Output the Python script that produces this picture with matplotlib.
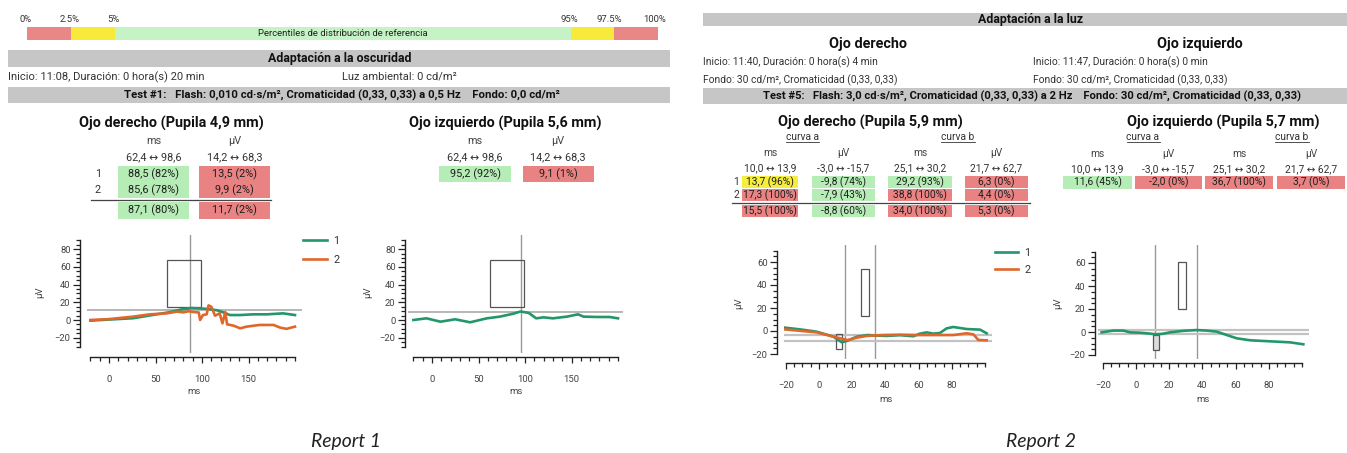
import matplotlib
matplotlib.use("Agg")
import matplotlib.pyplot as plt
from matplotlib.patches import Rectangle
from matplotlib.lines import Line2D
from matplotlib.ticker import FixedLocator

# ---------------------------------------------------------------- data
pct_labels = ["0%", "2.5%", "5%", "95%", "97.5%", "100%"]

# Report 1 - dark adaptation, test #1
r1_norm_ms = (62.4, 98.6)
r1_norm_uv = (14.2, 68.3)
r1_od_rows = ["1", "2"]
r1_od_ms = [88.5, 85.6]
r1_od_ms_pct = [82, 78]
r1_od_uv = [13.5, 9.9]
r1_od_uv_pct = [2, 2]
r1_od_mean_ms = (87.1, 80)
r1_od_mean_uv = (11.7, 2)
r1_oi_ms = (95.2, 92)
r1_oi_uv = (9.1, 1)

r1_od_t1_ms = [-20, 0, 26, 51, 64, 78, 88.5, 95, 105, 116, 123, 130, 141, 155, 170, 187, 200]
r1_od_t1_uv = [-0.7, 0.5, 2.0, 6.4, 8.6, 12.0, 13.5, 13.2, 12.6, 11.0, 8.6, 5.6, 5.6, 6.4, 6.4, 7.5, 5.6]
r1_od_t2_ms = [-20, 0, 26, 44, 62, 73, 80, 85.6, 91, 96.5, 98, 101, 105, 107, 110, 114, 119,
               122, 125, 127, 134, 141, 148, 162, 177, 184, 191, 200]
r1_od_t2_uv = [0.0, 1.0, 3.8, 6.4, 7.5, 9.5, 8.6, 9.9, 9.0, 8.5, 0.0, 5.6, 6.4, 16.5, 15.0, 4.9, 7.5,
               -3.8, 9.0, -4.9, -6.4, -9.4, -7.5, -5.6, -5.6, -8.6, -10.0, -7.5]
r1_oi_t1_ms = [-20, -6, 9, 25, 41, 59, 73, 87, 95.2, 104, 112, 120, 130, 145, 157, 163, 177, 191, 200]
r1_oi_t1_uv = [0.0, 1.9, -1.9, 0.8, -2.6, 1.9, 3.8, 7.0, 9.6, 8.0, 1.9, 3.0, 1.9, 3.8, 6.4, 3.8, 3.4, 3.4, 1.9]

# Report 2 - light adaptation, test #5
r2_norm_a_ms = (10.0, 13.9)
r2_norm_a_uv = (-3.0, -15.7)
r2_norm_b_ms = (25.1, 30.2)
r2_norm_b_uv = (21.7, 62.7)
r2_od_rows = ["1", "2", ""]
r2_od_vals = [[13.7, -9.8, 29.2, 6.3],
              [17.3, -7.9, 38.8, 4.4],
              [15.5, -8.8, 34.0, 5.3]]
r2_od_pcts = [[96, 74, 93, 0],
              [100, 43, 100, 0],
              [100, 60, 100, 0]]
r2_oi_vals = [11.6, -2.0, 36.7, 3.7]
r2_oi_pcts = [45, 0, 100, 0]

r2_od_t1_ms = [-20.5, -11.4, -1.4, 8.6, 13.7, 16.7, 22.7, 29.2, 34.7, 40.8, 48.8, 56.8, 60.8,
               64.9, 68.9, 72.9, 76.9, 80.9, 89, 97, 101]
r2_od_t1_uv = [2.9, 1.4, -0.6, -4.9, -9.8, -8.7, -5.0, -3.5, -4.0, -4.3, -3.6, -4.6, -2.3,
               -1.2, -2.3, -1.7, 2.3, 3.5, 1.7, 1.2, -2.0]
r2_od_t2_ms = [-20.5, -1.4, 8.6, 17.3, 22.7, 28.7, 34.7, 38.8, 48.8, 58, 68.9, 80.9, 89, 93, 96, 101]
r2_od_t2_uv = [1.4, -1.2, -4.9, -7.9, -5.8, -4.3, -3.8, -3.5, -3.2, -3.5, -3.5, -3.5, -2.0, -2.9, -7.8, -8.1]
r2_oi_t1_ms = [-20.7, -13.7, -7.6, -3.6, 2.4, 8.4, 11.6, 16, 20.5, 28.5, 36.7, 42.6, 48.6, 54.6,
               60.7, 68.7, 76.7, 84.7, 92.8, 100.8]
r2_oi_t1_uv = [-0.3, 1.2, 1.2, -0.3, -0.6, -1.4, -2.0, -1.6, -0.3, 1.0, 1.7, 1.2, 0.3, -2.6,
               -5.5, -7.2, -7.8, -8.4, -9.0, -10.7]

# ---------------------------------------------------------------- style
W, H = 1347, 453
plt.rcParams["font.family"] = ["Roboto", "DejaVu Sans"]

GREEN_TR = "#23976a"
ORANGE_TR = "#e0672c"
BAND = "#c6c6c6"
C_RED, C_YEL, C_GRN = "#e98282", "#f6ee3e", "#b6ecb6"
BAR_RED, BAR_YEL, BAR_GRN = "#e98686", "#f7ea3a", "#c6f3c6"
TXT = "#1e1e1e"

fig = plt.figure(figsize=(W / 100, H / 100), dpi=100)
fig.patch.set_facecolor("white")
renderer = fig.canvas.get_renderer()


def fx(x):
    return x / W


def fy(y):
    return 1 - y / H


def box(x0, x1, y0, y1, color, z=0.5):
    fig.add_artist(Rectangle((fx(x0), fy(y1)), (x1 - x0) / W, (y1 - y0) / H,
                             transform=fig.transFigure, facecolor=color,
                             edgecolor="none", zorder=z))


def hrule(x0, x1, y, color="#444", lw=0.9):
    fig.add_artist(Line2D([fx(x0), fx(x1)], [fy(y), fy(y)], transform=fig.transFigure,
                          color=color, lw=lw))


def txt(x, y, s, size, ha="center", va="center", weight="normal", color=TXT, style="normal",
        family=None):
    kw = {"family": family} if family else {}
    return fig.text(fx(x), fy(y), s, fontsize=size, ha=ha, va=va, weight=weight,
                    color=color, style=style, zorder=3, **kw)


def fit_size(sample, width, weight="normal", style="normal", family=None):
    kw = {"family": family} if family else {}
    t = fig.text(0, 0, sample, fontsize=10, weight=weight, style=style, **kw)
    w = t.get_window_extent(renderer).width
    t.remove()
    return 10 * width / w


def num(v):
    return f"{v:.1f}".replace(".", ",")


def cell_text(v, p):
    return f"{num(v)} ({p:.0f}%)"


def pct_color(p):
    if p < 2.5 or p > 97.5:
        return C_RED
    if p < 5 or p > 95:
        return C_YEL
    return C_GRN


def rng(a, b):
    return f"{num(a)} \u2194 {num(b)}"


test1 = "Test #1:   Flash: 0,010 cd\u00b7s/m\u00b2, Cromaticidad (0,33, 0,33) a 0,5 Hz    Fondo: 0,0 cd/m\u00b2"
test5 = ("Test #5:   Flash: 3,0 cd\u00b7s/m\u00b2, Cromaticidad (0,33, 0,33) a 2 Hz    "
         "Fondo: 30 cd/m\u00b2, Cromaticidad (0,33, 0,33)")

CAP_FAMILY = ["Lato", "DejaVu Sans"]
S_HEAD = fit_size("Adaptación a la oscuridad", 145, "bold")
S_INFO = fit_size("Inicio: 11:08, Duración: 0 hora(s) 20 min", 195)
S_INFO2 = fit_size("Inicio: 11:40, Duración: 0 hora(s) 4 min", 176)
S_TEST1 = fit_size(test1, 433, "bold")
S_TEST2 = fit_size(test5, 541, "bold")
S_EYE = fit_size("Ojo derecho (Pupila 4,9 mm)", 185, "bold")
S_TAB1 = fit_size("88,5 (82%)", 51)
S_TAB2 = fit_size("13,7 (96%)", 48)
S_PCT = fit_size("Percentiles de distribución de referencia", 169)
S_CAP = fit_size("Report 1", 70, style="italic", family=CAP_FAMILY)
S_TICK = 6.8

# ---------------------------------------------------------------- report 1 header
bar_x = [27, 71, 115, 571, 614, 658]
bar_c = [BAR_RED, BAR_YEL, BAR_GRN, BAR_YEL, BAR_RED]
for i, c in enumerate(bar_c):
    box(bar_x[i], bar_x[i + 1], 27, 40, c)
for lab, x in zip(pct_labels, [26, 70, 113, 569, 609, 655]):
    txt(x, 20, lab, S_PCT, color="#333")
txt(343, 34, "Percentiles de distribución de referencia", S_PCT, color="#222")

box(8, 670, 50, 67, BAND)
txt(340, 58.5, "Adaptación a la oscuridad", S_HEAD, weight="bold", color="#111")
txt(8, 77, "Inicio: 11:08, Duración: 0 hora(s) 20 min", S_INFO, ha="left", color="#333")
txt(342, 77, "Luz ambiental: 0 cd/m\u00b2", S_INFO, ha="left", color="#333")
box(8, 670, 87, 103, BAND)
txt(342, 95, test1, S_TEST1, weight="bold", color="#111")

# report 1 tables
txt(171, 123, "Ojo derecho (Pupila 4,9 mm)", S_EYE, weight="bold", color="#111")
od_cols = [153.5, 234.5]
cw1 = 71
txt(od_cols[0], 141, "ms", S_TAB1, color="#444")
txt(od_cols[1], 141, "\u00b5V", S_TAB1, color="#444")
txt(od_cols[0], 157, rng(*r1_norm_ms), S_TAB1, color="#333")
txt(od_cols[1], 157, rng(*r1_norm_uv), S_TAB1, color="#333")
row_y = [174, 190]
for lab, yc, vm, pm, va, pa in zip(r1_od_rows, row_y, r1_od_ms, r1_od_ms_pct, r1_od_uv, r1_od_uv_pct):
    txt(101, yc, lab, S_TAB1, ha="right", color="#333")
    for xc, v, p in ((od_cols[0], vm, pm), (od_cols[1], va, pa)):
        box(xc - cw1 / 2, xc + cw1 / 2, yc - 8, yc + 8, pct_color(p))
        txt(xc, yc, cell_text(v, p), S_TAB1)
hrule(91, 271, 200)
for xc, (v, p) in ((od_cols[0], r1_od_mean_ms), (od_cols[1], r1_od_mean_uv)):
    box(xc - cw1 / 2, xc + cw1 / 2, 202, 219, pct_color(p))
    txt(xc, 210.5, cell_text(v, p), S_TAB1)

txt(505, 123, "Ojo izquierdo (Pupila 5,6 mm)", S_EYE, weight="bold", color="#111")
oi_cols = [475, 558]
txt(oi_cols[0], 141, "ms", S_TAB1, color="#444")
txt(oi_cols[1], 141, "\u00b5V", S_TAB1, color="#444")
txt(oi_cols[0], 157, rng(*r1_norm_ms), S_TAB1, color="#333")
txt(oi_cols[1], 157, rng(*r1_norm_uv), S_TAB1, color="#333")
for xc, (v, p) in ((oi_cols[0], r1_oi_ms), (oi_cols[1], r1_oi_uv)):
    box(xc - cw1 / 2, xc + cw1 / 2, 166, 182, pct_color(p))
    txt(xc, 174, cell_text(v, p), S_TAB1)

# ---------------------------------------------------------------- report 2 header
box(703, 1347, 13, 26, BAND)
txt(1030, 19.5, "Adaptación a la luz", S_HEAD, weight="bold", color="#111")
txt(868, 44, "Ojo derecho", S_EYE, weight="bold", color="#111")
txt(1200, 44, "Ojo izquierdo", S_EYE, weight="bold", color="#111")
txt(703, 62, "Inicio: 11:40, Duración: 0 hora(s) 4 min", S_INFO2, ha="left", color="#333")
txt(703, 80, "Fondo: 30 cd/m\u00b2, Cromaticidad (0,33, 0,33)", S_INFO2, ha="left", color="#333")
txt(1033, 62, "Inicio: 11:47, Duración: 0 hora(s) 0 min", S_INFO2, ha="left", color="#333")
txt(1033, 80, "Fondo: 30 cd/m\u00b2, Cromaticidad (0,33, 0,33)", S_INFO2, ha="left", color="#333")
box(703, 1347, 88, 104, BAND)
txt(1032, 96.5, test5, S_TEST2, weight="bold", color="#111")


def underlined(x, y, s, size):
    t = txt(x, y, s, size, color="#333")
    bb = t.get_window_extent(renderer)
    yl = bb.y0 + 0.5
    fig.add_artist(Line2D([bb.x0 / W, bb.x1 / W], [yl / H, yl / H], transform=fig.transFigure,
                          color="#333", lw=0.6))


norm_ranges = [r2_norm_a_ms, r2_norm_a_uv, r2_norm_b_ms, r2_norm_b_uv]
units = ["ms", "\u00b5V", "ms", "\u00b5V"]

# right eye (report 2)
txt(870, 122, "Ojo derecho (Pupila 5,9 mm)", S_EYE, weight="bold", color="#111")
underlined(802, 137, "curva a", S_TAB2)
underlined(958, 137, "curva b", S_TAB2)
c2 = [770, 843.5, 920, 996.5]
cw2 = [56, 63, 64, 63]
for xc, u, r in zip(c2, units, norm_ranges):
    txt(xc, 153, u, S_TAB2, color="#444")
    txt(xc, 168, rng(*r), S_TAB2, color="#333")
r2_row_y = [182, 195, 211]
for lab, yc, vrow, prow in zip(r2_od_rows, r2_row_y, r2_od_vals, r2_od_pcts):
    if lab:
        txt(739, yc, lab, S_TAB2, ha="right", color="#333")
    for xc, w, v, p in zip(c2, cw2, vrow, prow):
        box(xc - w / 2, xc + w / 2, yc - 6.3, yc + 6.3, pct_color(p))
        txt(xc, yc, cell_text(v, p), S_TAB2)
hrule(732, 1030, 203)

# left eye (report 2)
txt(1223, 122, "Ojo izquierdo (Pupila 5,7 mm)", S_EYE, weight="bold", color="#111")
underlined(1143, 137, "curva a", S_TAB2)
underlined(1292, 137, "curva b", S_TAB2)
c3 = [1097.5, 1168.5, 1239, 1311]
cw3 = [69, 67, 68, 68]
for xc, u, r in zip(c3, units, norm_ranges):
    txt(xc, 154, u, S_TAB2, color="#444")
    txt(xc, 169, rng(*r), S_TAB2, color="#333")
for xc, w, v, p in zip(c3, cw3, r2_oi_vals, r2_oi_pcts):
    box(xc - w / 2, xc + w / 2, 176, 188.5, pct_color(p))
    txt(xc, 182, cell_text(v, p), S_TAB2)


# ---------------------------------------------------------------- waveform axes
def make_axes(xlim, ylim, x0px, xscale, y0px, yscale, yspine_px, xspine_px,
              xbounds, ybounds, xmajor, xminor, ymajor, yminor):
    left = x0px + xlim[0] * xscale
    right = x0px + xlim[1] * xscale
    top = y0px - ylim[1] * yscale
    bottom = y0px - ylim[0] * yscale
    ax = fig.add_axes([fx(left), fy(bottom), (right - left) / W, (bottom - top) / H])
    ax.set_xlim(*xlim)
    ax.set_ylim(*ylim)
    ax.patch.set_alpha(0)
    for s in ("top", "right"):
        ax.spines[s].set_visible(False)
    ax.spines["left"].set_position(("outward", (left - yspine_px) * 0.72))
    ax.spines["bottom"].set_position(("outward", (xspine_px - bottom) * 0.72))
    ax.spines["left"].set_bounds(*ybounds)
    ax.spines["bottom"].set_bounds(*xbounds)
    for s in ("left", "bottom"):
        ax.spines[s].set_linewidth(1.0)
        ax.spines[s].set_color("#222")
    ax.xaxis.set_major_locator(FixedLocator(xmajor))
    ax.xaxis.set_minor_locator(FixedLocator(xminor))
    ax.yaxis.set_major_locator(FixedLocator(ymajor))
    ax.yaxis.set_minor_locator(FixedLocator(yminor))
    ax.tick_params(axis="x", which="major", length=4.2, width=0.9, pad=9.0, color="#222",
                   labelsize=S_TICK, labelcolor="#444")
    ax.tick_params(axis="x", which="minor", length=2.8, width=0.9, color="#222")
    ax.tick_params(axis="y", which="major", length=5.0, width=0.9, pad=1.8, color="#222",
                   labelsize=S_TICK, labelcolor="#444")
    ax.tick_params(axis="y", which="minor", length=2.6, width=0.9, color="#222")
    return ax, (left, right, top, bottom)


def axis_labels(ax, ext, ylab_px, xlab_px):
    left, right, top, bottom = ext
    ax.set_ylabel("\u00b5V", fontsize=S_TICK, color="#444")
    ax.yaxis.set_label_coords((ylab_px[0] - left) / (right - left), (bottom - ylab_px[1]) / (bottom - top))
    ax.set_xlabel("ms", fontsize=S_TICK, color="#444")
    ax.xaxis.set_label_coords((xlab_px[0] - left) / (right - left), (bottom - xlab_px[1]) / (bottom - top))
    ax.xaxis.label.set_va("center")
    ax.yaxis.label.set_va("center")


def norm_box(ax, xr, yr, fill="none"):
    ax.add_patch(Rectangle((xr[0], min(yr)), xr[1] - xr[0], abs(yr[1] - yr[0]),
                           facecolor=fill, edgecolor="#555", lw=0.9, zorder=2))


r1_xmajor = [0, 50, 100, 150]
r1_xminor = list(range(-20, 201, 10))
r1_ymajor = [-20, 0, 20, 40, 60, 80]
r1_yminor = list(range(-30, 91, 5))
r2_xmajor = [-20, 0, 20, 40, 60, 80]
r2_xminor = list(range(-20, 101, 5))
r2_ymajor = [-20, 0, 20, 40, 60]
r2_yminor = list(range(-20, 71, 5))

# report 1, right eye
ax1, e1 = make_axes((-24, 208), (-37, 96), 109, 0.93, 320, 0.885, 80, 357,
                    (-20, 200), (-30, 90), r1_xmajor, r1_xminor, r1_ymajor, r1_yminor)
ax1.axvline(r1_od_mean_ms[0], color="#999", lw=1.0, zorder=1)
ax1.axhline(r1_od_mean_uv[0], color="#aaa", lw=1.2, zorder=1)
norm_box(ax1, r1_norm_ms, r1_norm_uv)
l1, = ax1.plot(r1_od_t1_ms, r1_od_t1_uv, color=GREEN_TR, lw=1.9, zorder=3)
l2, = ax1.plot(r1_od_t2_ms, r1_od_t2_uv, color=ORANGE_TR, lw=1.9, zorder=3)
axis_labels(ax1, e1, (40, 292), (193.5, 392))
lg = fig.legend([l1, l2], ["1", "2"], loc="upper left", bbox_to_anchor=(fx(303), fy(236)),
                frameon=False, fontsize=S_TAB1, handlelength=2.2, handletextpad=0.6,
                borderpad=0, borderaxespad=0, labelspacing=0.85)
for t in lg.get_texts():
    t.set_color("#333")

# report 1, left eye
ax2, e2 = make_axes((-26, 205), (-37, 96), 432, 0.93, 320, 0.885, 405, 357,
                    (-20, 200), (-30, 90), r1_xmajor, r1_xminor, r1_ymajor, r1_yminor)
ax2.axvline(r1_oi_ms[0], color="#999", lw=1.0, zorder=1)
ax2.axhline(r1_oi_uv[0], color="#aaa", lw=1.2, zorder=1)
norm_box(ax2, r1_norm_ms, r1_norm_uv)
ax2.plot(r1_oi_t1_ms, r1_oi_t1_uv, color=GREEN_TR, lw=1.9, zorder=3)
axis_labels(ax2, e2, (368, 292), (515.5, 392))

# "ms" captions of report 1 are cut by the page edge of the embedded image
box(160, 230, 393.5, 412, "white", z=5)
box(480, 550, 393.5, 412, "white", z=5)

# report 2, right eye
ax3, e3 = make_axes((-21, 104), (-24.5, 75), 819, 1.66, 331, 1.15, 777, 363,
                    (-20, 100), (-20, 70), r2_xmajor, r2_xminor, r2_ymajor, r2_yminor)
a_mean = r2_od_vals[2][1]
ax3.axvline(r2_od_vals[2][0], color="#999", lw=1.0, zorder=1)
ax3.axvline(r2_od_vals[2][2], color="#999", lw=1.0, zorder=1)
ax3.axhline(a_mean, color="#c2c2c2", lw=1.6, zorder=1)
ax3.axhline(a_mean + r2_od_vals[2][3], color="#c2c2c2", lw=1.6, zorder=1)
norm_box(ax3, r2_norm_a_ms, r2_norm_a_uv)
norm_box(ax3, r2_norm_b_ms, (a_mean + r2_norm_b_uv[0], a_mean + r2_norm_b_uv[1]))
m1, = ax3.plot(r2_od_t1_ms, r2_od_t1_uv, color=GREEN_TR, lw=1.9, zorder=3)
m2, = ax3.plot(r2_od_t2_ms, r2_od_t2_uv, color=ORANGE_TR, lw=1.9, zorder=3)
axis_labels(ax3, e3, (739, 303), (886, 400))
lg2 = fig.legend([m1, m2], ["1", "2"], loc="upper left", bbox_to_anchor=(fx(995), fy(248)),
                 frameon=False, fontsize=S_TAB1, handlelength=2.1, handletextpad=0.6,
                 borderpad=0, borderaxespad=0, labelspacing=0.62)
for t in lg2.get_texts():
    t.set_color("#333")

# report 2, left eye
ax4, e4 = make_axes((-23, 104.5), (-23.5, 75.5), 1136, 1.66, 332, 1.15, 1095, 363,
                    (-20, 100), (-20, 70), r2_xmajor, r2_xminor, r2_ymajor, r2_yminor)
a_oi = r2_oi_vals[1]
ax4.axvline(r2_oi_vals[0], color="#999", lw=1.0, zorder=1)
ax4.axvline(r2_oi_vals[2], color="#999", lw=1.0, zorder=1)
ax4.axhline(a_oi, color="#c2c2c2", lw=1.6, zorder=1)
ax4.axhline(a_oi + r2_oi_vals[3], color="#c2c2c2", lw=1.6, zorder=1)
norm_box(ax4, r2_norm_a_ms, r2_norm_a_uv, fill="#dcdcdc")
norm_box(ax4, r2_norm_b_ms, (a_oi + r2_norm_b_uv[0], a_oi + r2_norm_b_uv[1]))
ax4.plot(r2_oi_t1_ms, r2_oi_t1_uv, color=GREEN_TR, lw=1.9, zorder=3)
axis_labels(ax4, e4, (1058, 303), (1203, 400))

# ---------------------------------------------------------------- captions
txt(346, 442, "Report 1", S_CAP, style="italic", color="#222", family=CAP_FAMILY)
txt(1041, 442, "Report 2", S_CAP, style="italic", color="#222", family=CAP_FAMILY)

fig.savefig("out.png", dpi=100, facecolor="white")
